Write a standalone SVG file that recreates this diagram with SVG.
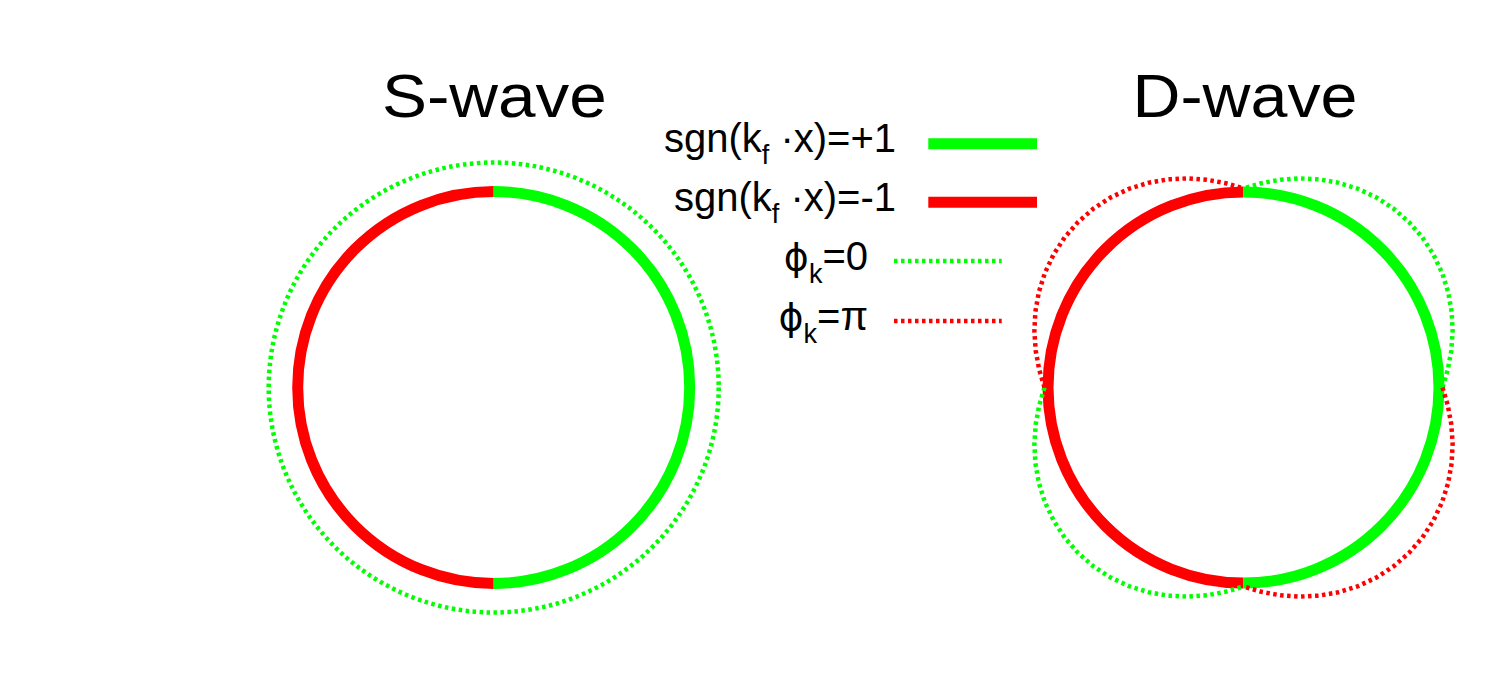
<svg xmlns="http://www.w3.org/2000/svg" xmlns:xlink="http://www.w3.org/1999/xlink" width="1500" height="700" viewBox="0 0 1500 700">
  <style>
    text { font-family: "Liberation Sans", Arial, Helvetica, sans-serif; fill: #000; }
    .title { font-size: 62px; text-anchor: middle; }
    .leg { font-size: 40px; text-anchor: end; }
    .sub { font-size: 27px; }
    .phi { font-family: "DejaVu Sans", sans-serif; font-size: 38px; }
    .solid { fill: none; stroke-width: 11; stroke-linecap: butt; }
    .dot { fill: none; stroke-width: 4.5; stroke-dasharray: 3.5 3.5; stroke-linecap: butt; }
    .g { stroke: #00ff00; }
    .r { stroke: #ff0000; }
  </style>
  <defs>
    <path id="lobe" d="M199,0 L204.297,-17.874 L207.766,-36.635 L209.124,-56.035 L208.139,-75.757 L204.655,-95.432 L198.59,-114.656 L189.952,-133.007 L178.846,-150.071 L165.464,-165.464 L150.071,-178.846 L133.007,-189.952 L114.656,-198.59 L95.432,-204.655 L75.757,-208.139 L56.035,-209.124 L36.635,-207.766 L17.874,-204.297 L0,-199"/>
  </defs>
  <rect width="1500" height="700" fill="#fff"/>

  <g id="s-wave">
    <text class="title" x="494.4" y="117" textLength="225" lengthAdjust="spacingAndGlyphs">S-wave</text>
    <path class="solid r" d="M493.7,191.5 A196,196 0 0,0 493.7,583.5"/>
    <path class="solid g" d="M493.7,191.5 A196,196 0 0,1 493.7,583.5"/>
    <circle class="dot g" cx="493.7" cy="387.5" r="225"/>
  </g>

  <g id="d-wave">
    <text class="title" x="1245" y="117" textLength="225" lengthAdjust="spacingAndGlyphs">D-wave</text>
    <path class="solid r" d="M1243.5,192 A195.5,195.5 0 0,0 1243.5,583"/>
    <path class="solid g" d="M1243.5,192 A195.5,195.5 0 0,1 1243.5,583"/>
    <use xlink:href="#lobe" class="dot g" transform="translate(1243.5,387.5)"/>
    <use xlink:href="#lobe" class="dot g" transform="translate(1243.5,387.5) rotate(180)"/>
    <use xlink:href="#lobe" class="dot r" transform="translate(1243.5,387.5) scale(-1,1)"/>
    <use xlink:href="#lobe" class="dot r" transform="translate(1243.5,387.5) scale(1,-1)"/>
  </g>

  <g id="legend">
    <text class="leg" x="896" y="152">sgn(k<tspan class="sub" dy="12">f</tspan><tspan dy="-12"> ·x)=+1</tspan></text>
    <line class="solid g" x1="928.3" y1="143.7" x2="1037" y2="143.7"/>
    <text class="leg" x="896" y="211">sgn(k<tspan class="sub" dy="12">f</tspan><tspan dy="-12"> ·x)=-1</tspan></text>
    <line class="solid r" x1="928.3" y1="202.3" x2="1037" y2="202.3"/>
    <text class="leg" x="868" y="270"><tspan class="phi">ϕ</tspan><tspan class="sub" dy="13">k</tspan><tspan dy="-13">=0</tspan></text>
    <line class="dot g" x1="894" y1="261" x2="1001.7" y2="261"/>
    <text class="leg" x="868" y="330"><tspan class="phi">ϕ</tspan><tspan class="sub" dy="13">k</tspan><tspan dy="-13">=π</tspan></text>
    <line class="dot r" x1="894" y1="321" x2="1001.7" y2="321"/>
  </g>
</svg>
